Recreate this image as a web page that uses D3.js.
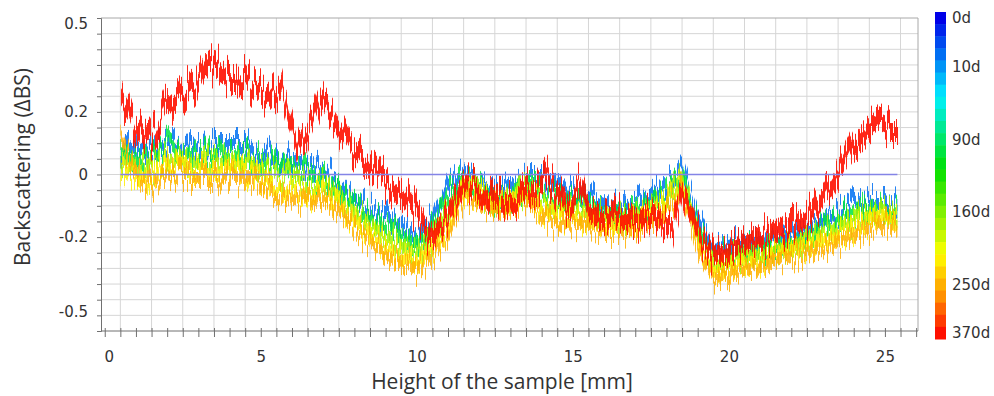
<!DOCTYPE html>
<html>
<head>
<meta charset="utf-8">
<script src="https://cdn.jsdelivr.net/npm/d3@7"></script>
<style>
  body { margin: 0; background: #fff; }
  svg { display: block; }
  .tick text { font-family: "DejaVu Sans", sans-serif; font-size: 15px; fill: #333; }
  .title { font-family: "Open Sans", sans-serif; fill: #333; }
  .legend-label { font-family: "DejaVu Sans", sans-serif; font-size: 15px; fill: #333; }
</style>
</head>
<body>
<div id="chart"></div>
<script>
// --- data ---
// sample height positions [mm] shared by the bundled scans
const heightMM = [0.5, 1, 1.5, 2, 2.5, 3, 3.5, 4, 4.5, 5, 5.5, 6, 6.5, 7, 7.5, 8, 8.5, 9, 9.5, 10,
  10.5, 11, 11.5, 12, 12.5, 13, 13.5, 14, 14.5, 15, 15.5, 16, 16.5, 17, 17.5, 18, 18.5, 19, 19.5, 20,
  20.5, 21, 21.5, 22, 22.5, 23, 23.5, 24, 24.5, 25, 25.4];

// delta BS per scan (colour index on the day scale)
const scanBlue = [0.078, 0.091, 0.081, 0.097, 0.081, 0.088, 0.091, 0.091, 0.091, 0.072, 0.059, 0.045, 0.030, 0.011, -0.021, -0.072, -0.110, -0.136, -0.168, -0.200,
  -0.142, -0.037, 0.008, -0.021, -0.062, -0.046, -0.021, -0.021, -0.053, -0.056, -0.069, -0.094, -0.110, -0.097, -0.072, -0.040, 0.018, -0.142, -0.238, -0.228,
  -0.216, -0.216, -0.209, -0.200, -0.174, -0.142, -0.117, -0.094, -0.088, -0.088, -0.101];
const scanGreen = [0.078, 0.065, 0.056, 0.100, 0.056, 0.062, 0.065, 0.065, 0.065, 0.046, 0.034, 0.024, 0.008, -0.014, -0.046, -0.097, -0.136, -0.161, -0.193, -0.225,
  -0.168, -0.062, -0.018, -0.046, -0.088, -0.072, -0.046, -0.046, -0.078, -0.081, -0.094, -0.120, -0.136, -0.123, -0.097, -0.065, -0.008, -0.168, -0.264, -0.254,
  -0.241, -0.241, -0.235, -0.225, -0.200, -0.168, -0.142, -0.120, -0.113, -0.113, -0.126];
const scanLime = [0.053, 0.024, 0.022, 0.051, 0.035, 0.038, 0.040, 0.038, 0.035, 0.014, -0.002, -0.010, -0.029, -0.037, -0.069, -0.123, -0.161, -0.198, -0.227, -0.251,
  -0.201, -0.117, -0.034, -0.053, -0.089, -0.078, -0.050, -0.077, -0.109, -0.105, -0.120, -0.137, -0.145, -0.137, -0.113, -0.081, -0.013, -0.190, -0.284, -0.275,
  -0.262, -0.257, -0.241, -0.230, -0.212, -0.190, -0.168, -0.145, -0.131, -0.123, -0.136];
const scanYellow = [0.021, -0.018, -0.011, 0.030, 0.014, 0.014, 0.014, 0.011, 0.005, -0.018, -0.037, -0.043, -0.065, -0.059, -0.091, -0.149, -0.187, -0.235, -0.260, -0.276,
  -0.235, -0.171, -0.050, -0.059, -0.091, -0.085, -0.053, -0.107, -0.139, -0.129, -0.145, -0.155, -0.155, -0.152, -0.129, -0.097, -0.018, -0.212, -0.305, -0.296,
  -0.283, -0.273, -0.248, -0.235, -0.225, -0.212, -0.193, -0.171, -0.149, -0.133, -0.145];
const scanOrange = [0.110, 0.000, -0.034, 0.008, -0.008, -0.008, -0.008, -0.011, -0.018, -0.040, -0.059, -0.065, -0.088, -0.081, -0.113, -0.171, -0.209, -0.257, -0.283, -0.299,
  -0.257, -0.193, -0.072, -0.081, -0.113, -0.107, -0.075, -0.129, -0.161, -0.152, -0.168, -0.177, -0.177, -0.174, -0.152, -0.120, -0.040, -0.235, -0.327, -0.318,
  -0.305, -0.296, -0.270, -0.257, -0.248, -0.235, -0.216, -0.193, -0.171, -0.155, -0.168];

// last scan (370d) has its own positions
const redMM = [0.52, 0.75, 0.97, 1.23, 1.45, 1.71, 1.93, 2.41, 2.90, 3.22, 3.54, 4.02, 4.50, 4.82, 5.30, 5.65, 5.94, 6.23, 6.58, 6.90,
  7.38, 7.86, 8.50, 8.98, 9.46, 9.94, 10.43, 10.74, 10.97, 11.29, 11.61, 11.93, 12.25, 12.57, 13.08, 13.53, 13.85, 14.17, 14.49, 14.82,
  15.23, 15.55, 15.87, 16.29, 16.74, 17.15, 17.57, 17.89, 18.21, 18.50, 18.85, 19.17, 19.49, 19.81, 20.13, 20.58, 21.09, 21.64, 22.18, 22.70,
  23.02, 23.34, 23.66, 23.98, 24.43, 24.85, 25.17, 25.42];
const redBS = [0.248, 0.212, 0.149, 0.126, 0.110, 0.158, 0.212, 0.254, 0.292, 0.356, 0.350, 0.311, 0.315, 0.276, 0.238, 0.276, 0.165, 0.085, 0.152, 0.238,
  0.165, 0.085, 0.024, -0.018, -0.056, -0.113, -0.203, -0.158, -0.139, -0.072, -0.018, -0.043, -0.081, -0.081, -0.081, -0.050, -0.050, -0.011, -0.059, -0.113,
  -0.027, -0.113, -0.139, -0.123, -0.145, -0.152, -0.123, -0.152, -0.161, -0.043, -0.129, -0.219, -0.251, -0.257, -0.232, -0.216, -0.200, -0.177, -0.161, -0.123,
  -0.075, -0.024, 0.030, 0.094, 0.136, 0.158, 0.142, 0.142];

// reference scan (0d) is zero by definition
const zeroMM = [0.5, 25.4];
const zeroBS = [0, 0];

const yTicks = [0.5, 0.2, 0, -0.2, -0.5];
const yTickLabels = ['0.5', '0.2', '0', '-0.2', '-0.5'];
const xTicks = [0, 5, 10, 15, 20, 25];

const legendCount = 27;
const legendIdx = [0, 4, 10, 16, 22, 26];
const legendText = ['0d', '10d', '90d', '160d', '250d', '370d'];

// --- layout ---
const W = 994, H = 396;
const pLeft = 101, pRight = 918, pTop = 18, pBottom = 331;

const svg = d3.select('#chart').append('svg')
  .attr('width', W)
  .attr('height', H);

const x = d3.scaleLinear().domain([-0.12, 26.06]).range([pLeft, pRight]);
const y = d3.scaleLinear().domain([-0.5, 0.5]).range([pBottom, pTop]);

const colorOf = d3.scaleLinear()
  .domain([0, 6.5, 12.5, 19.5, 23, 26])
  .range(['#0000e8', '#00f0ff', '#00e000', '#ffff00', '#ff9000', '#ff1000']);

// --- noise filters (visual jitter of the raw scans) ---
const defs = svg.append('defs');
function noiseFilter(id, seed, scale) {
  const f = defs.append('filter')
    .attr('id', id)
    .attr('filterUnits', 'userSpaceOnUse')
    .attr('x', 0).attr('y', 0).attr('width', W).attr('height', H)
    .attr('color-interpolation-filters', 'sRGB');
  f.append('feTurbulence')
    .attr('type', 'fractalNoise')
    .attr('baseFrequency', '0.55 0.004')
    .attr('numOctaves', 2)
    .attr('seed', seed)
    .attr('result', 'n');
  f.append('feColorMatrix')
    .attr('in', 'n')
    .attr('type', 'matrix')
    .attr('values', '0 0 0 0 0.5  0 2.2 0 0 -0.6  0 0 1 0 0  0 0 0 0 1')
    .attr('result', 'm');
  f.append('feDisplacementMap')
    .attr('in', 'SourceGraphic')
    .attr('in2', 'm')
    .attr('scale', scale)
    .attr('xChannelSelector', 'R')
    .attr('yChannelSelector', 'G');
}

// --- grid ---
const grid = svg.append('g').attr('class', 'grid');
grid.selectAll('.hgrid')
  .data(d3.range(-9, 10).map(i => i * 0.05))
  .enter().append('line')
  .attr('x1', pLeft).attr('x2', pRight)
  .attr('y1', d => y(d)).attr('y2', d => y(d))
  .style('stroke', '#d6d6d6').style('stroke-width', 1);
grid.selectAll('.vgrid')
  .data(d3.range(0.5, 26, 1))
  .enter().append('line')
  .attr('x1', d => x(d)).attr('x2', d => x(d))
  .attr('y1', pTop).attr('y2', pBottom)
  .style('stroke', '#d6d6d6').style('stroke-width', 1);

// border top / right
svg.append('path')
  .attr('d', `M${pLeft},${pTop}H${pRight}V${pBottom}`)
  .style('fill', 'none').style('stroke', '#a8a8a8');

// --- scans ---
const scans = [
  { idx: 3, values: scanBlue, seed: 3 },
  { idx: 11, values: scanGreen, seed: 7 },
  { idx: 17, values: scanLime, seed: 11 },
  { idx: 20, values: scanYellow, seed: 19 },
  { idx: 22, values: scanOrange, seed: 23 }
];

const plot = svg.append('g').attr('class', 'scans');

scans.forEach((s, i) => {
  noiseFilter('noise' + i, s.seed, 26);
  const pts = heightMM.map((h, k) => [h, s.values[k]]);
  const band = d3.area()
    .x(d => x(d[0]))
    .y0(d => y(d[1]) + 6)
    .y1(d => y(d[1]) - 6);
  plot.append('path')
    .datum(pts)
    .attr('d', band)
    .attr('filter', `url(#noise${i})`)
    .style('fill', colorOf(s.idx))
    .style('opacity', 0.85);
});

noiseFilter('noiseRed', 31, 30);
const redPts = redMM.map((h, k) => [h, redBS[k]]);
plot.append('path')
  .datum(redPts)
  .attr('d', d3.area()
    .x(d => x(d[0]))
    .y0(d => y(d[1]) + 9)
    .y1(d => y(d[1]) - 9))
  .attr('filter', 'url(#noiseRed)')
  .style('fill', colorOf(26))
  .style('opacity', 0.9);

// 0d reference line
plot.append('path')
  .datum(zeroMM.map((h, k) => [h, zeroBS[k]]))
  .attr('d', d3.line().x(d => x(d[0])).y(d => y(d[1])))
  .style('fill', 'none')
  .style('stroke', '#8484e6')
  .style('stroke-width', 1.4);

// --- axes ---
const yMinor = svg.append('g')
  .attr('transform', `translate(${pLeft},0)`)
  .call(d3.axisLeft(y).tickValues(d3.range(-10, 11).map(i => i * 0.05)).tickSize(4).tickFormat(''));
yMinor.select('.domain').style('stroke', '#707070');
yMinor.selectAll('.tick line').style('stroke', '#707070');

const yLab = svg.append('g')
  .attr('transform', `translate(${pLeft},0)`)
  .call(d3.axisLeft(y).tickValues(yTicks).tickSize(0).tickPadding(13)
    .tickFormat((d, i) => yTickLabels[i]));
yLab.select('.domain').remove();
yLab.selectAll('.tick text')
  .attr('dy', d => d === 0.5 ? '0.72em' : (d === -0.5 ? '-0.95em' : '0.32em'));

const xMinor = svg.append('g')
  .attr('transform', `translate(0,${pBottom})`)
  .call(d3.axisBottom(x).tickValues(d3.range(0, 53).map(i => i * 0.5)).tickSize(6).tickFormat(''));
xMinor.select('.domain').attr('d', `M${pLeft},0H${pRight}`).style('stroke', '#707070');
xMinor.selectAll('.tick line').attr('y1', -3).style('stroke', '#707070');

const xLab = svg.append('g')
  .attr('transform', `translate(0,${pBottom})`)
  .call(d3.axisBottom(x).tickValues(xTicks).tickSize(0).tickPadding(20));
xLab.select('.domain').remove();
xLab.selectAll('.tick text').attr('dx', d => d === 0 ? 4 : 0);

// titles
svg.append('text')
  .attr('class', 'title')
  .style('font-size', '21px')
  .attr('text-anchor', 'middle')
  .attr('x', 502).attr('y', 389)
  .text('Height of the sample [mm]');

svg.append('text')
  .attr('class', 'title')
  .style('font-size', '21px')
  .attr('text-anchor', 'middle')
  .attr('transform', 'translate(30,167) rotate(-90)')
  .text('Backscattering (ΔBS)');

// --- colour legend ---
const cb = d3.scaleBand().domain(d3.range(legendCount)).range([12, 339]);
const legend = svg.append('g').attr('class', 'legend');
legend.selectAll('rect')
  .data(d3.range(legendCount))
  .enter().append('rect')
  .attr('x', 935)
  .attr('width', 11)
  .attr('y', d => cb(d))
  .attr('height', cb.bandwidth() + 0.5)
  .style('fill', d => colorOf(d));

legend.selectAll('text')
  .data(legendIdx)
  .enter().append('text')
  .attr('class', 'legend-label')
  .attr('x', 952)
  .attr('y', d => cb(d) + cb.bandwidth() / 2)
  .attr('dy', '0.36em')
  .text((d, i) => legendText[i]);
</script>
</body>
</html>
